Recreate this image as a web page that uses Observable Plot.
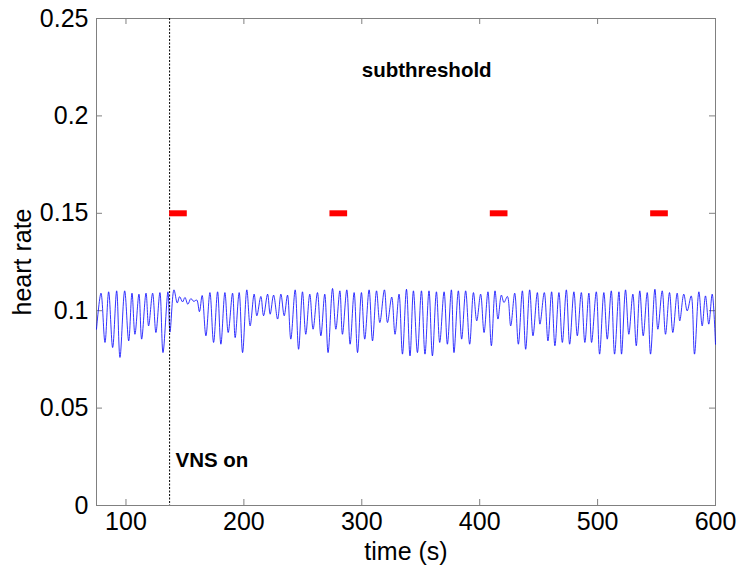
<!DOCTYPE html>
<html><head><meta charset="utf-8">
<script src="https://cdn.jsdelivr.net/npm/d3@7"></script>
<script src="https://cdn.jsdelivr.net/npm/@observablehq/plot@0.6"></script>
<style>body{margin:0;background:#fff} #chart svg{display:block}</style>
</head><body><div id="chart"></div>
<script>
const time = [75,78.8,82.2,85.3,88.7,92.1,94.9,98.9,102.3,105.1,107.6,111.0,113.3,117.0,119.2,122.6,125.4,128.8,131.4,135.6,
137.3,140.7,143.5,145.5,148.0,150.0,152.5,155.0,157.5,160.0,162.3,164.6,167.8,171.2,174.3,177.7,180.5,183.9,186.7,190.4,
192.6,196.0,198.9,202.5,205.3,208.7,211.0,214.4,216.7,220.1,222.3,225.2,228.6,231.4,234.2,237.0,239.8,243.5,246.4,249.7,
252.5,255.9,258.7,262.4,265.3,268.6,271.4,275.2,278.0,281.4,283.6,287.3,290.1,293.5,296.4,299.7,302.5,306.2,309.1,312.5,
315.3,319.2,321.8,325.4,328.2,331.6,334.5,337.9,340.9,343.8,347.2,350.6,353.6,357.0,359.9,363.3,366.1,369.8,372.6,376.0,
378.2,381.9,384.7,388.1,391.5,394.7,397.5,400.8,403.7,407.0,409.9,413.0,415.5,418.4,420.6,423.5,426.3,429.7,432.8,436.2,
439.0,442.4,445.2,448.9,451.1,454.8,457.9,461.0,463.8,467.2,470.1,473.5,476.3,479.9,482.8,486.2,489.2,492.6,494.9,498.9,
501.7,505.3,508.2,511.6,514.4,518.1,520.3,523.7,526.5,529.9,532.8,535.8,538.7,542.1,544.9,548.6,551.1,554.8,557.6,561.0,
563.8,567.5,569.7,573.1,576.0,579.4,582.2,585.9,588.7,591.5,594.3,597.2,600.0];
const heartRate = [0.0905,0.109,0.0837,0.1097,0.0811,0.1102,0.0760,0.1102,0.0845,0.109,0.0879,0.1085,0.0854,0.109,0.0922,0.109,0.0888,0.1093,0.0785,0.1097,
0.089,0.1107,0.104,0.1072,0.1045,0.1068,0.1033,0.1062,0.1048,0.1055,0.0995,0.1078,0.0871,0.1093,0.0837,0.1097,0.0828,0.1093,0.0888,0.109,
0.0862,0.1093,0.0785,0.1107,0.0922,0.1085,0.0974,0.1073,0.0974,0.1085,0.0982,0.108,0.0957,0.1085,0.0974,0.108,0.0854,0.1107,0.0802,0.1097,
0.0879,0.1085,0.0905,0.1093,0.0871,0.1085,0.0785,0.1114,0.0905,0.1102,0.0879,0.1107,0.0828,0.1093,0.0785,0.1093,0.0854,0.1107,0.0845,0.1102,
0.0939,0.1107,0.0939,0.107,0.0879,0.1085,0.0777,0.111,0.0768,0.1102,0.0785,0.1102,0.0777,0.1102,0.0768,0.1097,0.0837,0.1097,0.0828,0.1107,
0.0785,0.1102,0.0854,0.1102,0.0828,0.1093,0.0948,0.1085,0.0888,0.1097,0.082,0.1102,0.0957,0.108,0.1042,0.1073,0.0922,0.109,0.0828,0.1102,
0.0802,0.1107,0.0871,0.1093,0.0931,0.1093,0.0845,0.1097,0.082,0.1093,0.0837,0.1107,0.0828,0.1097,0.0871,0.1093,0.0837,0.109,0.0837,0.1097,
0.0777,0.1093,0.0854,0.1102,0.0777,0.1097,0.0777,0.1107,0.0879,0.1085,0.082,0.1102,0.0871,0.1093,0.0777,0.111,0.0905,0.1102,0.0879,0.1093,
0.0888,0.109,0.0948,0.1085,0.0999,0.1076,0.0777,0.1097,0.0922,0.1076,0.0931,0.1085,0.0828];
const stimStart = [137, 273, 409, 545];
const stimEnd = [152, 288, 424, 560];
const stimLevel = 0.15;
const vnsOnTime = 137;
const xTicks = [100, 200, 300, 400, 500, 600];
const yTicks = [0, 0.05, 0.1, 0.15, 0.2, 0.25];
const noteX = [300, 142];
const noteY = [0.2235, 0.023];
const noteText = ["subthreshold", "VNS on"];
const xLabel = "time (s)";
const yLabel = "heart rate";

const W = 745, H = 575, mL = 96, mR = 30, mT = 18, mB = 70;
const innerH = H - mT - mB, innerW = W - mL - mR;
const series = time.map((t, i) => ({t, v: heartRate[i]}));
const bars = stimStart.map((s, i) => ({x1: s, x2: stimEnd[i], y: stimLevel}));
const notes = noteText.map((t, i) => ({x: noteX[i], y: noteY[i], text: t}));
const font = "'Liberation Sans', Arial, Helvetica, sans-serif";

const chart = Plot.plot({
  width: W, height: H,
  marginLeft: mL, marginRight: mR, marginTop: mT, marginBottom: mB,
  style: {fontFamily: font, background: "#fff", color: "#000"},
  x: {domain: [75, 600], label: null},
  y: {domain: [0, 0.25], label: null},
  marks: [
    Plot.axisX(xTicks, {tickSize: 0, tickPadding: 7, fontSize: 25, tickFormat: d => String(d), label: null}),
    Plot.axisY(yTicks, {tickSize: 0, tickPadding: 8, fontSize: 25, tickFormat: d => String(+d.toFixed(2)), label: null}),
    Plot.ruleX(xTicks, {x: d => d, insetTop: innerH - 6, stroke: "#808080"}),
    Plot.ruleX(xTicks, {x: d => d, insetBottom: innerH - 6, stroke: "#808080"}),
    Plot.ruleY(yTicks, {y: d => d, insetRight: innerW - 6, stroke: "#808080"}),
    Plot.ruleY(yTicks, {y: d => d, insetLeft: innerW - 6, stroke: "#808080"}),
    Plot.frame({stroke: "#808080"}),
    Plot.line(series, {x: "t", y: "v", stroke: "#0000ff", strokeWidth: 0.8, curve: "catmull-rom"}),
    Plot.ruleX([vnsOnTime], {x: d => d, stroke: "#000", strokeDasharray: "2,1.5", strokeWidth: 1}),
    Plot.ruleY(bars, {x1: "x1", x2: "x2", y: "y", stroke: "#ff0000", strokeWidth: 6}),
    Plot.text(notes, {x: "x", y: "y", text: "text", textAnchor: "start", fontWeight: "bold", fontSize: 20.5, fill: "#000"}),
    Plot.text([yLabel], {frameAnchor: "left", dx: -74, rotate: -90, textAnchor: "middle", lineAnchor: "middle", text: d => d, fontSize: 25, fill: "#000"}),
    Plot.text([xLabel], {frameAnchor: "bottom", dy: 46, textAnchor: "middle", lineAnchor: "middle", text: d => d, fontSize: 25, fill: "#000"})
  ]
});
document.getElementById("chart").appendChild(chart);
</script>
</body></html>
